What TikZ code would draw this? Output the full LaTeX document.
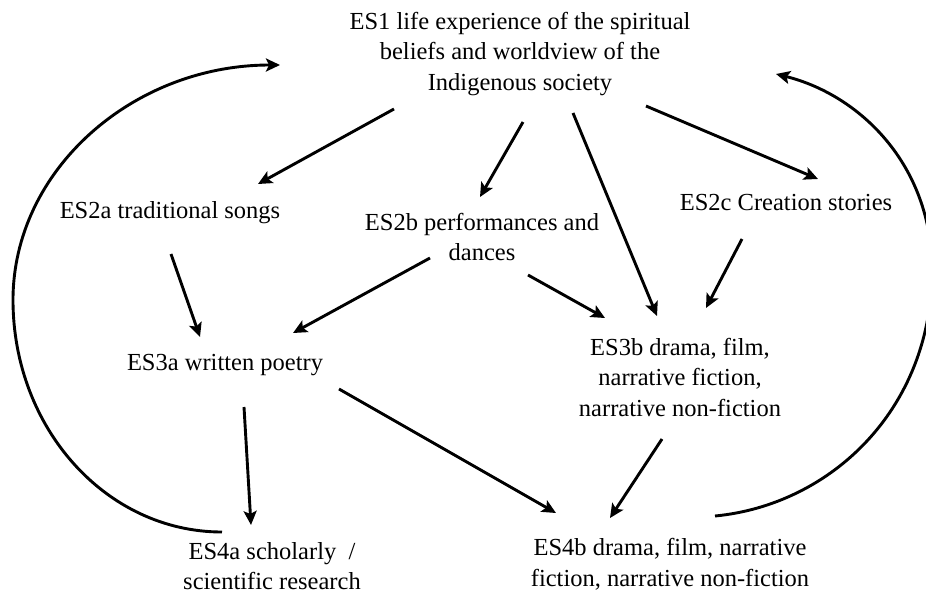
\documentclass[tikz,border=0pt]{standalone}
\usepackage{fontspec}
\setmainfont{Liberation Serif}
\usetikzlibrary{arrows.meta}

\begin{document}
\begin{tikzpicture}[x=1pt,y=-1pt,
    txt/.style={align=center,inner sep=0pt,font=\fontsize{24.5}{30.5}\selectfont},
    arr/.style={-{Stealth[length=14pt,width=13pt,inset=3pt]},line width=2.9pt}]
   \useasboundingbox (0,0) rectangle (926,595);
   \clip (0,0) rectangle (926,595);
   % stages
   \node (es1) at (520,54) [txt]
     {ES1 life experience of the spiritual\\beliefs and worldview of the\\Indigenous society};
   \node (es2a) at (170,213) [txt] {ES2a traditional songs};
   \node (es2b) at (482,237) [txt] {ES2b performances and\\dances};
   \node (es2c) at (786,203) [txt] {ES2c Creation stories};
   \node (es3a) at (225,365) [txt] {ES3a written poetry};
   \node (es3b) at (680,377) [txt]
     {ES3b drama, film,\\narrative fiction,\\narrative non-fiction};
   \node (es4a) at (272,566) [txt] {ES4a scholarly~~/\\scientific research};
   \node (es4b) at (670,564) [txt]
     {ES4b drama, film, narrative\\fiction, narrative non-fiction};
   % straight links
   \foreach \a/\ax/\ay/\b/\bx/\by in {
       es1/-126/55/es2a/88/-29,
       es1/3/68/es2b/-2/-40,
       es1/53/59/es3b/-23/-61,
       es1/126/52/es2c/32/-24,
       es2a/1/41/es3a/-25/-28,
       es2b/-52/21/es3a/68/-32,
       es2b/46/38/es3b/-75/-59,
       es2c/-44/36/es3b/26/-69,
       es3a/19/42/es4a/-21/-41,
       es3a/114/24/es4b/-114/-51,
       es3b/-18/62/es4b/-60/-46} {
     \draw [arr] ([shift={(\ax,\ay)}]\a.center) -- ([shift={(\bx,\by)}]\b.center);
   }
   % loops back to ES1
   \draw [arr]
     ([shift={(-50,-34)}]es4a.center) .. controls (106,532) and (13,428) .. (13,300)
       .. controls (13,170) and (133,65) .. ([shift={(-240,11)}]es1.center);
   \draw [arr]
     ([shift={(45,-48)}]es4b.center) .. controls (830,505) and (932,410) .. (932,270)
       .. controls (932,165) and (860,95) .. ([shift={(256,20)}]es1.center);
\end{tikzpicture}
\end{document}
